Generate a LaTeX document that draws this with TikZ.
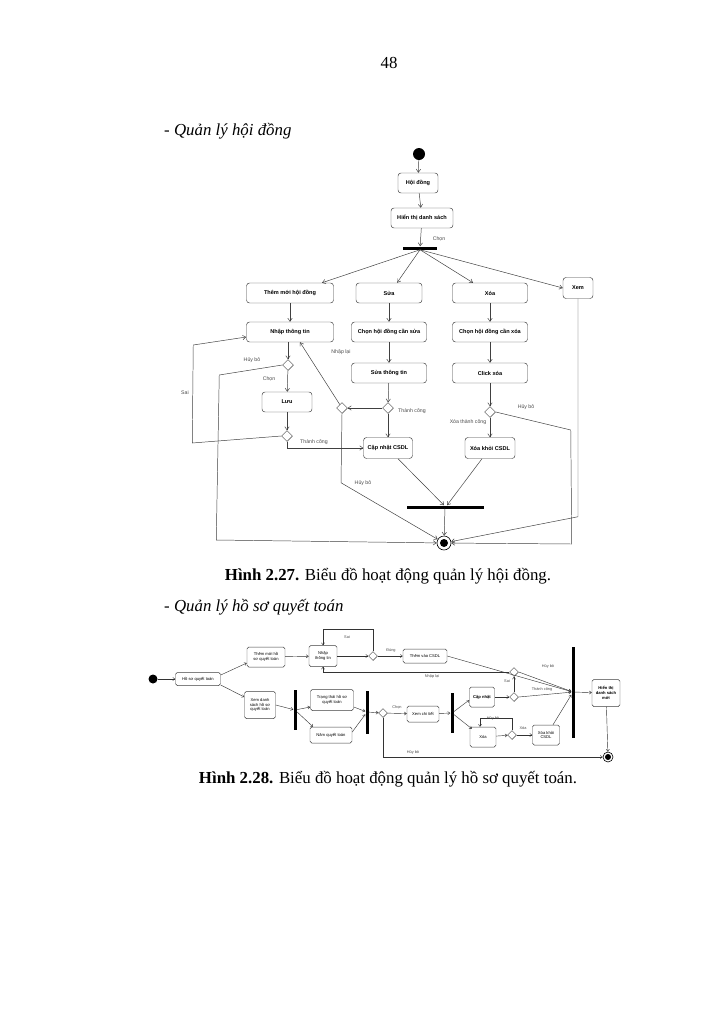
\documentclass[tikz,border=0pt]{standalone}
\usepackage{fontspec}
\setmainfont{Liberation Serif}
\newfontfamily\diafont{Liberation Sans}
\usetikzlibrary{shapes.geometric,arrows.meta}
\newdimen\pxu
\pxu=0.029cm

\tikzset{
  act/.style 2 args={draw=black!75, line width=0.4pt, rounded corners=2.5pt, fill=white, inner sep=0pt, align=center,
    minimum width=#1\pxu, minimum height=#2\pxu, font=\diafont\fontsize{4.6}{5.4}\selectfont\bfseries},
  act2/.style 2 args={act={#1}{#2}, rounded corners=1.5pt, font=\diafont\fontsize{3.4}{3.9}\selectfont},
  dec/.style={diamond, draw=black!75, line width=0.4pt, fill=white, inner sep=0pt, minimum size=#1\pxu},
  dec/.default=11,
  bar/.style 2 args={fill=black, inner sep=0pt, minimum width=#1\pxu, minimum height=#2\pxu},
  startdot/.style={circle, fill=black, inner sep=0pt, minimum size=#1\pxu},
  enddot/.style={circle, draw=black, line width=0.5pt, fill=white, inner sep=0pt, minimum size=#1\pxu},
  lbl/.style={font=\diafont\fontsize{4.3}{5}\selectfont, text=black!70, inner sep=0pt},
  lbl2/.style={font=\diafont\fontsize{3.2}{3.8}\selectfont, text=black!70, inner sep=0pt},
  arr/.style={draw=black!75, line width=0.4pt, -{Straight Barb[length=2.6pt,width=3.6pt]}},
  arr2/.style={draw=black!80, line width=0.35pt, -{Straight Barb[length=1.8pt,width=2.6pt]}},
  txt/.style={inner sep=0pt, font=\fontsize{13.9}{16}\selectfont},
}

\begin{document}
\begin{tikzpicture}[x=\pxu, y=-\pxu]
  \fill[white] (0,0) rectangle (723,1024);
  \useasboundingbox (0,0) rectangle (723,1024);

  \node[txt] (pagenum) at (389,63) {48};
  \node[txt, anchor=west] (sec1) at (164,131) {\itshape - Quản lý hội đồng};
  \node[txt] (cap1) at (388,576) {\textbf{Hình 2.27.} Biểu đồ hoạt động quản lý hội đồng.};
  \node[txt, anchor=west] (sec2) at (164,607) {\itshape - Quản lý hồ sơ quyết toán};
  \node[txt] (cap2) at (388,779) {\textbf{Hình 2.28.} Biểu đồ hoạt động quản lý hồ sơ quyết toán.};

  % quan ly hoi dong
  \node[startdot=12] (start) at (419,154) {};
  \node[act={40}{20}] (hd) at (418,183) {Hội đồng};
  \node[act={62}{20}] (hts) at (422,218) {Hiển thị danh sách};
  \node[bar={34}{3}] (fork) at (420,248) {};
  \node[act={87}{20}] (them) at (290,293) {Thêm mới hội đồng};
  \node[act={66}{20}] (sua) at (389,293) {Sửa};
  \node[act={75}{20}] (xoa) at (490,293) {Xóa};
  \node[act={30}{21}] (xem) at (578,288) {Xem};
  \node[act={87}{20}] (nhap) at (290,332) {Nhập thông tin};
  \node[act={75}{20}] (chonsua) at (389,332) {Chọn hội đồng cần sửa};
  \node[act={75}{20}] (chonxoa) at (490,332) {Chọn hội đồng cần xóa};
  \node[act={75}{20}] (suatt) at (389,373) {Sửa thông tin};
  \node[act={75}{20}] (click) at (490,373) {Click xóa};
  \node[dec] (d1) at (288,365) {};
  \node[act={50}{20}] (luu) at (287,402) {Lưu};
  \node[dec] (d2) at (287,436) {};
  \node[dec] (d3) at (342,408) {};
  \node[dec] (d4) at (388,408) {};
  \node[dec] (d5) at (490,412) {};
  \node[act={49}{21}] (capnhat) at (388,448) {Cập nhật CSDL};
  \node[act={50}{21}] (xoakhoi) at (490,448) {Xóa khỏi CSDL};
  \node[bar={77}{3}] (join) at (445,507) {};
  \node[enddot=14] (final) at (444,543) {};
  \fill (final) circle[radius=4];

  \draw[arr] (start) -- (hd);
  \draw[arr] (hd) -- (hts);
  \draw[arr] (hts) -- (fork);
  \draw[arr] (fork.south) -- ([shift={(32,0)}]them.north);
  \draw[arr] (fork.south) -- ([shift={(8,0)}]sua.north);
  \draw[arr] (fork.south) -- ([shift={(-17,0)}]xoa.north);
  \draw[arr] (fork.south) -- (xem.west);
  \draw[arr] (them) -- (nhap);
  \draw[arr] (sua) -- (chonsua);
  \draw[arr] (xoa) -- (chonxoa);
  \draw[arr] (chonsua) -- (suatt);
  \draw[arr] (chonxoa) -- (click);
  \draw[arr] (nhap.south -| d1) -- (d1);
  \draw[arr] (d1) -- (luu);
  \draw[arr] (luu) -- (d2);
  \draw[arr] (suatt) -- (d4);
  \draw[arr] (click) -- (d5);
  \draw[arr] (d4) -- (capnhat);
  \draw[arr] (d5) -- (xoakhoi);
  \draw[arr] (d4) -- (d3);
  \draw[arr] (d3) -- ([shift={(10,0)}]nhap.south);
  \draw[arr] (d3.south) -- ++(-1,69) -- (final);
  \draw[arr] (d1.west) -- ++(-63,10) -- ++(-3,165) -- (final);
  \draw[arr] (d2.west) -- ++(-89,7) -- ++(1,-98) -- ([shift={(0,5)}]nhap.west);
  \draw[arr] (d2.south) |- (capnhat.west);
  \draw[arr] (d5.east) -- ++(75,18) -- ++(1,114) -- (final);
  \draw[arr] (xem.south) -- ++(0,218) -- (final);
  \draw[arr] ([shift={(10,0)}]capnhat.south) -- ([shift={(-1,0)}]join.north);
  \draw[arr] ([shift={(-8,0)}]xoakhoi.south) -- ([shift={(2,0)}]join.north);
  \draw[arr] (join) -- (final);

  \node[lbl] (lchon) at (439,239) {Chọn};
  \node[lbl] (lhuy1) at (252,360) {Hủy bỏ};
  \node[lbl] (lchon2) at (269,379) {Chọn};
  \node[lbl] (lsai) at (185,393) {Sai};
  \node[lbl] (ltc1) at (314,442) {Thành công};
  \node[lbl] (lnhaplai) at (341,352) {Nhập lại};
  \node[lbl] (ltc2) at (412,411) {Thành công};
  \node[lbl] (lhuy2) at (526,407) {Hủy bỏ};
  \node[lbl] (lxtc) at (468,422) {Xóa thành công};
  \node[lbl] (lhuy3) at (363,483) {Hủy bỏ};

  % quan ly ho so quyet toan
  \node[startdot=9] (start2) at (153,679) {};
  \node[act2={45}{13}] (hoso) at (198,679) {Hồ sơ quyết toán};
  \node[act2={38}{20}] (themhs) at (266,657) {Thêm mới hồ\\sơ quyết toán};
  \node[act2={31}{27}] (xemds) at (260,705) {Xem danh\\sách hồ sơ\\quyết toán};
  \node[bar={3}{40}] (bar1) at (295,710) {};
  \node[act2={43}{21}] (trangthai) at (332,700) {Trạng thái hồ sơ\\quyết toán};
  \node[act2={42}{16}] (nam) at (331,735) {Năm quyết toán};
  \node[bar={3}{43}] (bar2) at (367,712) {};
  \node[act2={28}{21}] (nhap2) at (323,656) {Nhập\\thông tin};
  \node[dec=9] (dA) at (373,656) {};
  \node[act2={44}{14}] (themcsdl) at (425,656) {Thêm vào CSDL};
  \node[dec=9] (dD) at (383,713) {};
  \node[act2={32}{16}] (xemct) at (423,714) {Xem chi tiết};
  \node[bar={3}{40}] (bar4) at (452,713) {};
  \node[act2={25}{20}] (capnhat2) at (482,697) {\bfseries Cập nhật};
  \node[act2={26}{20}] (xoa2) at (483,737) {Xóa};
  \node[dec=9] (dC) at (514,697) {};
  \node[dec=9] (dB) at (514,672) {};
  \node[dec=9] (dE) at (512,735) {};
  \node[act2={27}{20}] (xoakhoi2) at (546,735) {Xóa khỏi\\CSDL};
  \node[bar={3}{91}] (bar3) at (573,692) {};
  \node[act2={28}{27}, font=\diafont\fontsize{3.4}{3.9}\selectfont\bfseries] (hienthi) at (606,693) {Hiển thị\\danh sách\\mới};
  \node[enddot=10] (final2) at (608,757) {};
  \fill (final2) circle[radius=3];

  \draw[arr2] (start2) -- (hoso);
  \draw[arr2] ([shift={(0,-4)}]hoso.east) -- ([shift={(0,6)}]themhs.west);
  \draw[arr2] ([shift={(0,6)}]hoso.east) -- ([shift={(0,-8)}]xemds.west);
  \draw[arr2] (themhs) -- (nhap2);
  \draw[arr2] (xemds.east) -- (bar1);
  \draw[arr2] (bar1) -- ([shift={(0,7)}]trangthai.west);
  \draw[arr2] (bar1) -- ([shift={(-18,0)}]nam.north);
  \draw[arr2] ([shift={(0,7)}]trangthai.east) -- (bar2);
  \draw[arr2] ([shift={(0,-3)}]nam.east) -- (bar2);
  \draw[arr2] (bar2) -- (dD);
  \draw[arr2] (dD) -- (xemct);
  \draw[arr2] (xemct) -- (bar4);
  \draw[arr2] (bar4) -- ([shift={(0,3)}]capnhat2.west);
  \draw[arr2] (bar4) -- ([shift={(2,2)}]xoa2.north west);
  \draw[arr2] (capnhat2) -- (dC);
  \draw[arr2] (dC) -- (dB);
  \draw[arr2] (dC.east) -- (bar3);
  \draw[arr2] (dB.east) -- (bar3);
  \draw[arr2] (dB.west) -| (nhap2.south);
  \draw[arr2] (nhap2) -- (dA);
  \draw[arr2] (dA) -- (themcsdl);
  \draw[arr2] (dA.north) -- ++(0,-22) -| (nhap2.north);
  \draw[arr2] (themcsdl.east) -- (bar3);
  \draw[arr2] (xoa2) -- (dE);
  \draw[arr2] (dE.north) -- ++(0,-12) -| ([shift={(-3,0)}]xoa2.north);
  \draw[arr2] (dE) -- (xoakhoi2);
  \draw[arr2] ([shift={(7,0)}]xoakhoi2.north) -- (bar3);
  \draw[arr2] (bar3) -- (hienthi);
  \draw[arr2] (hienthi) -- (final2);
  \draw[arr2] (dD.south) |- (final2.west);

  \node[lbl2] (msai1) at (347,637) {Sai};
  \node[lbl2] (mdung) at (391,650) {Đúng};
  \node[lbl2] (mnhaplai) at (432,676) {Nhập lại};
  \node[lbl2] (mhuy1) at (548,666) {Hủy bỏ};
  \node[lbl2] (msai2) at (507,681) {Sai};
  \node[lbl2] (mtc) at (542,689) {Thành công};
  \node[lbl2] (mchon) at (397,707) {Chọn};
  \node[lbl2] (mhuy2) at (493,718) {Hủy bỏ};
  \node[lbl2] (mxoa) at (523,728) {Xóa};
  \node[lbl2] (mhuy3) at (413,752) {Hủy bỏ};
\end{tikzpicture}
\end{document}
